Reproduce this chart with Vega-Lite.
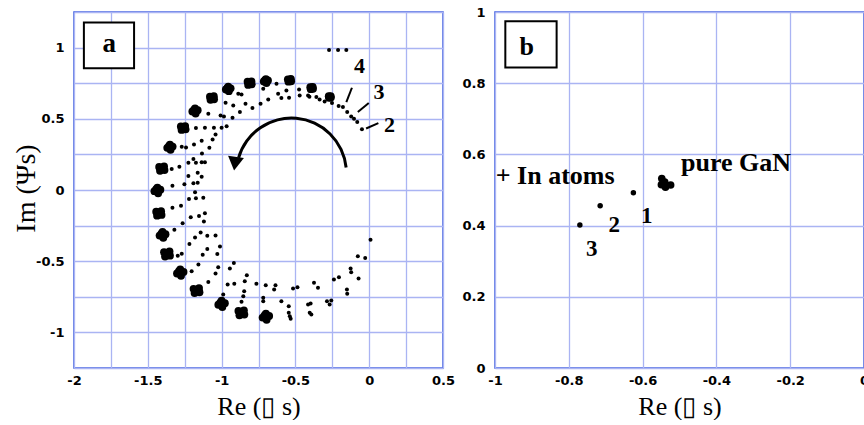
{
  "$schema": "https://vega.github.io/schema/vega-lite/v6.json",
  "background": "white",
  "bounds": "flush",
  "spacing": 52,
  "padding": {"left": 11, "top": 5, "right": 0, "bottom": 0},
  "config": {
    "view": {"stroke": "#3d5ce0", "strokeWidth": 1.5},
    "axis": {
      "grid": true, "gridColor": "#aab4f3", "gridWidth": 1.3, "gridOpacity": 1,
      "domain": false, "ticks": false,
      "labelFont": "DejaVu Sans", "labelFontSize": 13, "labelFontWeight": "bold", "labelColor": "#000000",
      "labelFlush": false, "labelOverlap": false, "labelBound": false,
      "titleFont": "Liberation Serif", "titleFontSize": 26, "titleFontWeight": "normal", "titleColor": "#000000"
    },
    "axisX": {"labelPadding": 6, "titleY": 46, "titleBaseline": "alphabetic"},
    "axisY": {"labelPadding": 10}
  },
  "datasets": {
    "ringA": [
      {"x":-0.887,"y":0.676,"kind":"s"},{"x":-0.865,"y":0.671,"kind":"s"},{"x":-0.973,"y":0.613,"kind":"s"},{"x":-0.921,"y":0.594,"kind":"s"},
      {"x":-0.838,"y":0.606,"kind":"s"},{"x":-0.791,"y":0.576,"kind":"s"},{"x":-0.736,"y":0.606,"kind":"s"},{"x":-1.090,"y":0.536,"kind":"s"},
      {"x":-1.007,"y":0.524,"kind":"s"},{"x":-0.984,"y":0.517,"kind":"s"},{"x":-0.926,"y":0.508,"kind":"s"},{"x":-0.876,"y":0.548,"kind":"s"},
      {"x":-1.174,"y":0.436,"kind":"s"},{"x":-1.113,"y":0.438,"kind":"s"},{"x":-1.052,"y":0.438,"kind":"s"},{"x":-1.000,"y":0.438,"kind":"s"},
      {"x":-0.966,"y":0.448,"kind":"s"},{"x":-1.041,"y":0.389,"kind":"s"},{"x":-1.270,"y":0.303,"kind":"s"},{"x":-1.241,"y":0.298,"kind":"s"},
      {"x":-1.187,"y":0.320,"kind":"s"},{"x":-1.135,"y":0.345,"kind":"s"},{"x":-1.061,"y":0.354,"kind":"s"},{"x":-1.083,"y":0.296,"kind":"s"},
      {"x":-1.133,"y":0.257,"kind":"s"},{"x":-1.191,"y":0.217,"kind":"s"},{"x":-1.225,"y":0.191,"kind":"s"},{"x":-1.174,"y":0.191,"kind":"s"},
      {"x":-1.135,"y":0.194,"kind":"s"},{"x":-1.113,"y":0.194,"kind":"s"},{"x":-1.286,"y":0.163,"kind":"s"},{"x":-1.338,"y":0.147,"kind":"s"},
      {"x":-1.225,"y":0.098,"kind":"s"},{"x":-1.162,"y":0.121,"kind":"s"},{"x":-1.135,"y":0.093,"kind":"s"},{"x":-1.252,"y":0.040,"kind":"s"},
      {"x":-1.333,"y":0.030,"kind":"s"},{"x":-1.191,"y":0.047,"kind":"s"},{"x":-1.162,"y":0.051,"kind":"s"},
      {"x":-0.628,"y":0.746,"kind":"s"},{"x":-0.718,"y":0.711,"kind":"s"},{"x":-0.684,"y":0.636,"kind":"s"},{"x":-0.617,"y":0.676,"kind":"s"},
      {"x":-0.595,"y":0.646,"kind":"s"},{"x":-0.561,"y":0.699,"kind":"s"},{"x":-0.543,"y":0.648,"kind":"s"},{"x":-0.475,"y":0.706,"kind":"s"},
      {"x":-0.471,"y":0.664,"kind":"s"},{"x":-0.414,"y":0.664,"kind":"s"},{"x":-0.405,"y":0.655,"kind":"s"},{"x":-0.358,"y":0.653,"kind":"s"},
      {"x":-0.336,"y":0.636,"kind":"s"},{"x":-0.302,"y":0.622,"kind":"s"},{"x":-0.252,"y":0.611,"kind":"s"},{"x":-0.207,"y":0.590,"kind":"s"},
      {"x":-0.178,"y":0.583,"kind":"s"},{"x":-0.149,"y":0.548,"kind":"s"},{"x":-0.122,"y":0.517,"kind":"s"},{"x":-0.103,"y":0.501,"kind":"s"},
      {"x":-0.081,"y":0.478,"kind":"s"},{"x":-0.049,"y":0.427,"kind":"s"},{"x":-0.272,"y":0.984,"kind":"s"},{"x":-0.211,"y":0.984,"kind":"s"},
      {"x":-0.155,"y":0.984,"kind":"s"},
      {"x":-1.180,"y":-0.016,"kind":"s"},{"x":-1.221,"y":-0.063,"kind":"s"},{"x":-1.174,"y":-0.058,"kind":"s"},{"x":-1.124,"y":-0.054,"kind":"s"},
      {"x":-1.275,"y":-0.110,"kind":"s"},{"x":-1.333,"y":-0.124,"kind":"s"},{"x":-1.209,"y":-0.191,"kind":"s"},{"x":-1.153,"y":-0.182,"kind":"s"},
      {"x":-1.113,"y":-0.163,"kind":"s"},{"x":-1.120,"y":-0.222,"kind":"s"},{"x":-1.264,"y":-0.233,"kind":"s"},{"x":-1.320,"y":-0.280,"kind":"s"},
      {"x":-1.142,"y":-0.299,"kind":"s"},{"x":-1.180,"y":-0.334,"kind":"s"},{"x":-1.097,"y":-0.322,"kind":"s"},{"x":-1.041,"y":-0.320,"kind":"s"},
      {"x":-1.218,"y":-0.380,"kind":"s"},{"x":-1.011,"y":-0.396,"kind":"s"},{"x":-1.097,"y":-0.415,"kind":"s"},{"x":-1.270,"y":-0.448,"kind":"s"},
      {"x":-1.297,"y":-0.462,"kind":"s"},{"x":-1.128,"y":-0.455,"kind":"s"},{"x":-1.029,"y":-0.450,"kind":"s"},{"x":-1.157,"y":-0.524,"kind":"s"},
      {"x":-1.203,"y":-0.571,"kind":"s"},{"x":-1.023,"y":-0.543,"kind":"s"},{"x":-0.944,"y":-0.552,"kind":"s"},{"x":-0.917,"y":-0.513,"kind":"s"},
      {"x":-1.041,"y":-0.587,"kind":"s"},{"x":-0.829,"y":-0.599,"kind":"s"},{"x":-0.843,"y":-0.641,"kind":"s"},{"x":-1.090,"y":-0.646,"kind":"s"},
      {"x":-0.959,"y":-0.664,"kind":"s"},{"x":-0.914,"y":-0.659,"kind":"s"},{"x":-0.764,"y":-0.659,"kind":"s"},{"x":-1.140,"y":-0.711,"kind":"s"},
      {"x":-0.847,"y":-0.711,"kind":"s"},{"x":-0.853,"y":-0.746,"kind":"s"},{"x":-0.865,"y":-0.785,"kind":"s"},{"x":-0.989,"y":-0.734,"kind":"s"},
      {"x":0.009,"y":-0.350,"kind":"s"},{"x":-0.077,"y":-0.466,"kind":"s"},{"x":-0.027,"y":-0.478,"kind":"s"},{"x":-0.126,"y":-0.552,"kind":"s"},
      {"x":-0.122,"y":-0.578,"kind":"s"},{"x":-0.072,"y":-0.622,"kind":"s"},{"x":-0.239,"y":-0.629,"kind":"s"},{"x":-0.205,"y":-0.613,"kind":"s"},
      {"x":-0.151,"y":-0.699,"kind":"s"},{"x":-0.149,"y":-0.729,"kind":"s"},{"x":-0.374,"y":-0.652,"kind":"s"},{"x":-0.347,"y":-0.687,"kind":"s"},
      {"x":-0.257,"y":-0.776,"kind":"s"},{"x":-0.268,"y":-0.804,"kind":"s"},{"x":-0.286,"y":-0.781,"kind":"s"},{"x":-0.414,"y":-0.804,"kind":"s"},
      {"x":-0.397,"y":-0.797,"kind":"s"},{"x":-0.403,"y":-0.862,"kind":"s"},{"x":-0.392,"y":-0.874,"kind":"s"},{"x":-0.516,"y":-0.692,"kind":"s"},
      {"x":-0.486,"y":-0.683,"kind":"s"},{"x":-0.595,"y":-0.781,"kind":"s"},{"x":-0.545,"y":-0.816,"kind":"s"},{"x":-0.545,"y":-0.862,"kind":"s"},
      {"x":-0.538,"y":-0.886,"kind":"s"},{"x":-0.532,"y":-0.904,"kind":"s"},{"x":-0.635,"y":-0.669,"kind":"s"},{"x":-0.644,"y":-0.699,"kind":"s"},
      {"x":-0.701,"y":-0.669,"kind":"s"},{"x":-0.718,"y":-0.757,"kind":"s"},{"x":-0.718,"y":-0.781,"kind":"s"},
      {"x":-0.551,"y":0.777,"kind":"c"},{"x":-0.531,"y":0.780,"kind":"c"},{"x":-0.547,"y":0.761,"kind":"c"},{"x":-0.529,"y":0.764,"kind":"c"},{"x":-0.540,"y":0.770,"kind":"c"},
      {"x":-0.714,"y":0.762,"kind":"c"},{"x":-0.700,"y":0.779,"kind":"c"},{"x":-0.686,"y":0.769,"kind":"c"},{"x":-0.696,"y":0.751,"kind":"c"},{"x":-0.706,"y":0.771,"kind":"c"},
      {"x":-0.824,"y":0.760,"kind":"c"},{"x":-0.798,"y":0.763,"kind":"c"},{"x":-0.820,"y":0.738,"kind":"c"},{"x":-0.796,"y":0.742,"kind":"c"},{"x":-0.810,"y":0.750,"kind":"c"},
      {"x":-0.971,"y":0.706,"kind":"c"},{"x":-0.955,"y":0.726,"kind":"c"},{"x":-0.939,"y":0.714,"kind":"c"},{"x":-0.951,"y":0.694,"kind":"c"},{"x":-0.961,"y":0.716,"kind":"c"},
      {"x":-1.079,"y":0.655,"kind":"c"},{"x":-1.053,"y":0.658,"kind":"c"},{"x":-1.075,"y":0.633,"kind":"c"},{"x":-1.051,"y":0.637,"kind":"c"},{"x":-1.065,"y":0.645,"kind":"c"},
      {"x":-1.198,"y":0.551,"kind":"c"},{"x":-1.180,"y":0.573,"kind":"c"},{"x":-1.162,"y":0.560,"kind":"c"},{"x":-1.176,"y":0.537,"kind":"c"},{"x":-1.187,"y":0.562,"kind":"c"},
      {"x":-1.276,"y":0.446,"kind":"c"},{"x":-1.247,"y":0.449,"kind":"c"},{"x":-1.271,"y":0.422,"kind":"c"},{"x":-1.244,"y":0.426,"kind":"c"},{"x":-1.260,"y":0.435,"kind":"c"},
      {"x":-1.368,"y":0.296,"kind":"c"},{"x":-1.350,"y":0.318,"kind":"c"},{"x":-1.332,"y":0.305,"kind":"c"},{"x":-1.346,"y":0.282,"kind":"c"},{"x":-1.357,"y":0.307,"kind":"c"},
      {"x":-1.423,"y":0.162,"kind":"c"},{"x":-1.390,"y":0.166,"kind":"c"},{"x":-1.417,"y":0.135,"kind":"c"},{"x":-1.387,"y":0.140,"kind":"c"},{"x":-1.405,"y":0.150,"kind":"c"},
      {"x":-1.455,"y":-0.008,"kind":"c"},{"x":-1.435,"y":0.017,"kind":"c"},{"x":-1.415,"y":0.002,"kind":"c"},{"x":-1.430,"y":-0.023,"kind":"c"},{"x":-1.443,"y":0.005,"kind":"c"},
      {"x":-1.443,"y":-0.153,"kind":"c"},{"x":-1.410,"y":-0.149,"kind":"c"},{"x":-1.437,"y":-0.180,"kind":"c"},{"x":-1.407,"y":-0.175,"kind":"c"},{"x":-1.425,"y":-0.165,"kind":"c"},
      {"x":-1.420,"y":-0.320,"kind":"c"},{"x":-1.400,"y":-0.295,"kind":"c"},{"x":-1.380,"y":-0.310,"kind":"c"},{"x":-1.395,"y":-0.335,"kind":"c"},{"x":-1.408,"y":-0.307,"kind":"c"},
      {"x":-1.390,"y":-0.437,"kind":"c"},{"x":-1.353,"y":-0.432,"kind":"c"},{"x":-1.383,"y":-0.467,"kind":"c"},{"x":-1.350,"y":-0.461,"kind":"c"},{"x":-1.370,"y":-0.450,"kind":"c"},
      {"x":-1.302,"y":-0.586,"kind":"c"},{"x":-1.280,"y":-0.558,"kind":"c"},{"x":-1.258,"y":-0.575,"kind":"c"},{"x":-1.275,"y":-0.602,"kind":"c"},{"x":-1.289,"y":-0.571,"kind":"c"},
      {"x":-1.190,"y":-0.694,"kind":"c"},{"x":-1.153,"y":-0.689,"kind":"c"},{"x":-1.183,"y":-0.724,"kind":"c"},{"x":-1.150,"y":-0.718,"kind":"c"},{"x":-1.170,"y":-0.707,"kind":"c"},
      {"x":-1.022,"y":-0.806,"kind":"c"},{"x":-1.000,"y":-0.778,"kind":"c"},{"x":-0.978,"y":-0.795,"kind":"c"},{"x":-0.995,"y":-0.822,"kind":"c"},{"x":-1.009,"y":-0.791,"kind":"c"},
      {"x":-0.886,"y":-0.850,"kind":"c"},{"x":-0.849,"y":-0.845,"kind":"c"},{"x":-0.879,"y":-0.880,"kind":"c"},{"x":-0.846,"y":-0.874,"kind":"c"},{"x":-0.866,"y":-0.863,"kind":"c"},
      {"x":-0.722,"y":-0.896,"kind":"c"},{"x":-0.700,"y":-0.868,"kind":"c"},{"x":-0.678,"y":-0.885,"kind":"c"},{"x":-0.695,"y":-0.912,"kind":"c"},{"x":-0.709,"y":-0.881,"kind":"c"},
      {"x":-0.399,"y":0.722,"kind":"c"},{"x":-0.383,"y":0.724,"kind":"c"},{"x":-0.396,"y":0.708,"kind":"c"},{"x":-0.381,"y":0.711,"kind":"c"},
      {"x":-0.274,"y":0.658,"kind":"c"},{"x":-0.261,"y":0.659,"kind":"c"},{"x":-0.272,"y":0.647,"kind":"c"},{"x":-0.260,"y":0.649,"kind":"c"}
    ],
    "labelsA": [
      {"label":"4","x":-0.065,"y":0.820},
      {"label":"3","x":0.066,"y":0.641},
      {"label":"2","x":0.137,"y":0.408}
    ],
    "leadersA": [
      {"x":-0.117,"y":0.718,"x2":-0.155,"y2":0.617},
      {"x":-0.003,"y":0.611,"x2":-0.077,"y2":0.548},
      {"x":0.062,"y":0.470,"x2":-0.021,"y2":0.432}
    ],
    "arcA": [{"x":-0.527,"y":0.119}],
    "headA": [{"x":-0.909,"y":0.185}],
    "boxA": [{"label":"a","x":-1.933,"x2":-1.593,"y":0.855,"y2":1.177,"tx":-1.761,"ty":0.967}],
    "ringB": [
      {"x":-0.548,"y":0.532,"kind":"c"},{"x":-0.549,"y":0.515,"kind":"c"},{"x":-0.538,"y":0.508,"kind":"c"},{"x":-0.524,"y":0.514,"kind":"c"},{"x":-0.540,"y":0.522,"kind":"c"},
      {"x":-0.625,"y":0.492,"kind":"s"},{"x":-0.715,"y":0.456,"kind":"s"},{"x":-0.770,"y":0.402,"kind":"s"}
    ],
    "labelsB": [
      {"label":"1","x":-0.589,"y":0.407},
      {"label":"2","x":-0.677,"y":0.382},
      {"label":"3","x":-0.738,"y":0.314}
    ],
    "wordsB": [
      {"label":"+ In atoms","x":-0.998,"y":0.516},
      {"label":"pure GaN","x":-0.496,"y":0.554}
    ],
    "boxB": [{"label":"b","x":-0.972,"x2":-0.833,"y":0.844,"y2":0.974,"tx":-0.914,"ty":0.880}]
  },
  "hconcat": [
    {
      "width": 369,
      "height": 356,
      "encoding": {
        "x": {"field": "x", "type": "quantitative",
              "scale": {"domain": [-2, 0.5], "nice": false, "zero": false},
              "axis": {"title": "Re (▯ s)", "values": [-2,-1.75,-1.5,-1.25,-1,-0.75,-0.5,-0.25,0,0.25,0.5],
                       "labelExpr": "abs(datum.value*2 - round(datum.value*2)) < 0.01 ? replace(format(datum.value, '~g'), '\u2212', '-') : ''"}},
        "y": {"field": "y", "type": "quantitative",
              "scale": {"domain": [-1.25, 1.25], "nice": false, "zero": false},
              "axis": {"title": "Im (Ψs)", "values": [-1.25,-1,-0.75,-0.5,-0.25,0,0.25,0.5,0.75,1,1.25],
                       "labelExpr": "abs(datum.value) > 1.2 ? '' : abs(datum.value*2 - round(datum.value*2)) < 0.01 ? replace(format(datum.value, '~g'), '\u2212', '-') : ''",
                       "titleX": -40, "titleY": 176, "titleAngle": 270, "titleAlign": "center", "titleBaseline": "alphabetic", "titleFontSize": 28}}
      },
      "layer": [
        {
          "data": {"name": "ringA"},
          "transform": [{"filter": "datum.kind == 's'"}],
          "mark": {"type": "circle", "size": 16, "color": "#000000", "opacity": 1}
        },
        {
          "data": {"name": "ringA"},
          "transform": [{"filter": "datum.kind == 'c'"}],
          "mark": {"type": "circle", "size": 62, "color": "#000000", "opacity": 1}
        },
        {
          "data": {"name": "leadersA"},
          "mark": {"type": "rule", "color": "#000000", "strokeWidth": 2},
          "encoding": {
            "x2": {"field": "x2"},
            "y2": {"field": "y2"}
          }
        },
        {
          "data": {"name": "labelsA"},
          "mark": {"type": "text", "font": "Liberation Serif", "fontWeight": "bold", "fontSize": 22, "align": "center", "baseline": "alphabetic", "color": "#000000"},
          "encoding": {"text": {"field": "label"}}
        },
        {
          "data": {"name": "arcA"},
          "mark": {"type": "arc", "innerRadius": 53.5, "outerRadius": 56.5, "theta": -1.29, "theta2": 1.47, "color": "#000000"}
        },
        {
          "data": {"name": "headA"},
          "mark": {"type": "point", "shape": "triangle-down", "size": 256, "filled": true, "color": "#000000", "opacity": 1, "angle": 8}
        },
        {
          "data": {"name": "boxA"},
          "mark": {"type": "rect", "fill": "#ffffff", "stroke": "#000000", "strokeWidth": 2},
          "encoding": {
            "x2": {"field": "x2"},
            "y2": {"field": "y2"}
          }
        },
        {
          "data": {"name": "boxA"},
          "mark": {"type": "text", "font": "Liberation Serif", "fontWeight": "bold", "fontSize": 27, "align": "center", "baseline": "alphabetic", "color": "#000000"},
          "encoding": {
            "x": {"field": "tx", "type": "quantitative"},
            "y": {"field": "ty", "type": "quantitative"},
            "text": {"field": "label"}
          }
        }
      ]
    },
    {
      "width": 369,
      "height": 356,
      "encoding": {
        "x": {"field": "x", "type": "quantitative",
              "scale": {"domain": [-1, 0], "nice": false, "zero": false},
              "axis": {"title": "Re (▯ s)", "values": [-1,-0.8,-0.6,-0.4,-0.2,0],
                       "labelExpr": "replace(format(datum.value, '~g'), '\u2212', '-')"}},
        "y": {"field": "y", "type": "quantitative",
              "scale": {"domain": [0, 1], "nice": false, "zero": false},
              "axis": {"title": null, "values": [0,0.2,0.4,0.6,0.8,1],
                       "labelExpr": "format(datum.value, '~g')"}}
      },
      "layer": [
        {
          "data": {"name": "ringB"},
          "transform": [{"filter": "datum.kind == 's'"}],
          "mark": {"type": "circle", "size": 30, "color": "#000000", "opacity": 1}
        },
        {
          "data": {"name": "ringB"},
          "transform": [{"filter": "datum.kind == 'c'"}],
          "mark": {"type": "circle", "size": 58, "color": "#000000", "opacity": 1}
        },
        {
          "data": {"name": "labelsB"},
          "mark": {"type": "text", "font": "Liberation Serif", "fontWeight": "bold", "fontSize": 23, "align": "center", "baseline": "alphabetic", "color": "#000000"},
          "encoding": {"text": {"field": "label"}}
        },
        {
          "data": {"name": "wordsB"},
          "mark": {"type": "text", "font": "Liberation Serif", "fontWeight": "bold", "fontSize": 26, "align": "left", "baseline": "alphabetic", "color": "#000000"},
          "encoding": {"text": {"field": "label"}}
        },
        {
          "data": {"name": "boxB"},
          "mark": {"type": "rect", "fill": "#ffffff", "stroke": "#000000", "strokeWidth": 2},
          "encoding": {
            "x2": {"field": "x2"},
            "y2": {"field": "y2"}
          }
        },
        {
          "data": {"name": "boxB"},
          "mark": {"type": "text", "font": "Liberation Serif", "fontWeight": "bold", "fontSize": 26, "align": "center", "baseline": "alphabetic", "color": "#000000"},
          "encoding": {
            "x": {"field": "tx", "type": "quantitative"},
            "y": {"field": "ty", "type": "quantitative"},
            "text": {"field": "label"}
          }
        }
      ]
    }
  ]
}
